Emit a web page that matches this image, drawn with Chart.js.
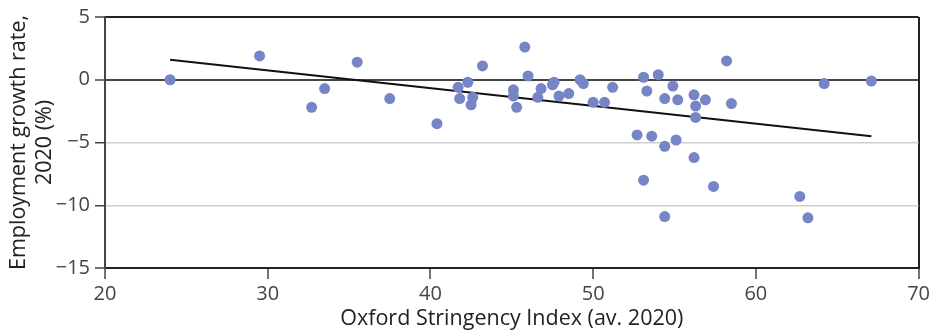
<!DOCTYPE html>
<html>
<head>
<meta charset="utf-8">
<script src="https://cdn.jsdelivr.net/npm/chart.js@4.4.1/dist/chart.umd.min.js"></script>
<style>
  html, body { margin: 0; padding: 0; background: #fff; }
  #wrap { width: 933px; height: 330px; }
</style>
</head>
<body>
<div id="wrap"><canvas id="chart" width="933" height="330"></canvas></div>
<script>
// Oxford Stringency Index (av. 2020) per country
const stringency = [
    24.0, 29.5, 32.7, 33.5, 35.5, 37.5, 40.4, 41.7, 42.3, 41.8,
    42.6, 42.5, 43.2, 45.1, 45.1, 45.3, 45.8, 46.0, 46.6, 46.8,
    47.5, 47.6, 47.9, 48.5, 49.2, 49.4, 50.0, 50.7, 51.2, 52.7,
    53.1, 53.3, 53.6, 54.0, 54.4, 54.4, 54.9, 55.1, 55.2, 56.2,
    56.3, 56.3, 56.9, 58.2, 58.5, 64.2, 67.1, 56.2, 53.1, 57.4,
    62.7, 54.4, 63.2
];
// Employment growth rate, 2020 (%)
const employment = [
    0.0, 1.9, -2.2, -0.7, 1.4, -1.5, -3.5, -0.6, -0.2, -1.5,
    -1.4, -2.0, 1.1, -0.8, -1.3, -2.2, 2.6, 0.3, -1.4, -0.7,
    -0.4, -0.2, -1.3, -1.1, 0.0, -0.3, -1.8, -1.8, -0.6, -4.4,
    0.2, -0.9, -4.5, 0.4, -1.5, -5.3, -0.5, -4.8, -1.6, -1.2,
    -2.1, -3.0, -1.6, 1.5, -1.9, -0.3, -0.1, -6.2, -8.0, -8.5,
    -9.3, -10.9, -11.0
];
// fitted trend line (ends)
const trendX = [24.0, 67.1];
const trendY = [1.6, -4.5];

const xTicks = [20, 30, 40, 50, 60, 70];
const yTicks = [5, 0, -5, -10, -15];

const scatterPoints = stringency.map((x, i) => ({ x: x, y: employment[i] }));
const trendPoints = trendX.map((x, i) => ({ x: x, y: trendY[i] }));

const fontFamily = "'Open Sans', 'Noto Sans', sans-serif";

new Chart(document.getElementById('chart'), {
    type: 'scatter',
    data: {
        datasets: [{
            type: 'line',
            data: trendPoints,
            borderColor: '#111',
            borderWidth: 2,
            pointRadius: 0,
            fill: false,
            order: 2  // drawn first, dots sit on top
        }, {
            data: scatterPoints,
            backgroundColor: '#7585c5',
            borderWidth: 0,
            pointRadius: 5.5,
            pointHoverRadius: 5.5,
            order: 1
        }]
    },
    options: {
        responsive: false,
        animation: false,
        layout: { padding: { top: 17, right: 13, left: 0, bottom: 0 } },
        plugins: {
            legend: { display: false },
            tooltip: { enabled: false }
        },
        scales: {
            x: {
                type: 'linear',
                min: 20,
                max: 70,
                afterBuildTicks: scale => { scale.ticks = xTicks.map(v => ({ value: v })); },
                afterFit: scale => { scale.height = 62; },
                ticks: {
                    color: '#444',
                    padding: 3,
                    maxRotation: 0,
                    font: { family: fontFamily, size: 20 }
                },
                grid: {
                    color: ctx => ctx.tick && ctx.tick.value === 70 ? '#222' : 'rgba(0,0,0,0)',
                    lineWidth: 2,
                    tickColor: '#444',
                    tickLength: 11,
                    tickWidth: 1.5
                },
                border: { display: true, color: '#222', width: 2 },
                title: {
                    display: true,
                    text: 'Oxford Stringency Index (av. 2020)',
                    color: '#222',
                    font: { family: fontFamily, size: 21.5, lineHeight: 1.0 },
                    padding: { top: 0, bottom: 0 }
                }
            },
            y: {
                min: -15,
                max: 5,
                afterBuildTicks: scale => { scale.ticks = yTicks.map(v => ({ value: v })); },
                afterFit: scale => { scale.width = 105; },
                ticks: {
                    color: '#444',
                    padding: 5,
                    font: { family: fontFamily, size: 20 },
                    callback: v => String(v).replace('-', '\u2212')
                },
                grid: {
                    color: ctx => {
                        const v = ctx.tick ? ctx.tick.value : null;
                        if (v === 0) return '#444';
                        if (v === 5 || v === -15) return '#222';
                        return '#cfcfcf';
                    },
                    lineWidth: ctx => (ctx.tick && (ctx.tick.value === -5 || ctx.tick.value === -10)) ? 1.5 : 2,
                    tickColor: '#444',
                    tickLength: 10,
                    tickWidth: 1.5
                },
                border: { display: true, color: '#444', width: 2 },
                title: {
                    display: true,
                    text: ['Employment growth rate,', '2020 (%)'],
                    color: '#222',
                    font: { family: fontFamily, size: 21.5, lineHeight: 1.2 },
                    padding: { top: 6, bottom: 0 }
                }
            }
        }
    }
});
</script>
</body>
</html>
